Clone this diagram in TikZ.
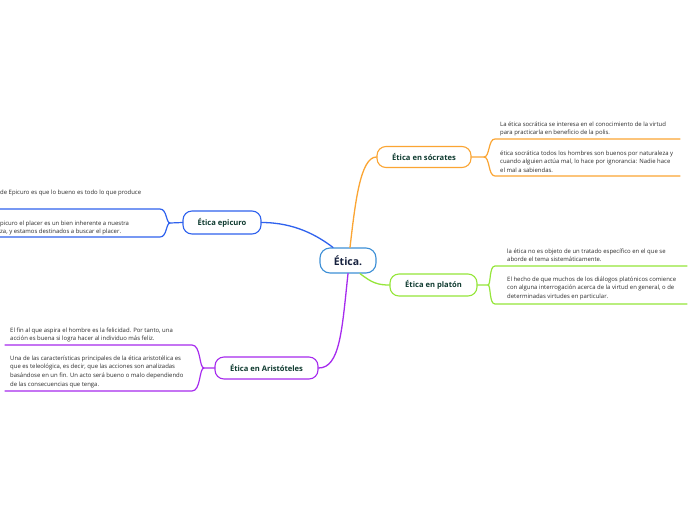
\documentclass[tikz,border=0pt]{standalone}
\usepackage{fontspec}
\setmainfont{Open Sans}
\usetikzlibrary{calc}
\definecolor{corange}{HTML}{FBA533}
\definecolor{cblue}{HTML}{2F62EE}
\definecolor{ccenter}{HTML}{3D8FD6}
\definecolor{cgreen}{HTML}{95E63A}
\definecolor{cpurple}{HTML}{A62BEE}
\definecolor{ttitle}{HTML}{0F3B30}
\definecolor{tcenter}{HTML}{17223F}
\definecolor{tsub}{HTML}{2A2A2A}
\newcommand{\mylines}[1]{\begin{tabular}[t]{@{}l@{}}#1\end{tabular}}
\begin{document}
\begin{tikzpicture}[x=1pt,y=-1pt,
 topic/.style={draw, line width=1.1pt, rounded corners=9pt, fill=white, inner sep=0pt, font=\bfseries\fontsize{7.6}{9}\selectfont, text=ttitle},
 subtext/.style={anchor=base west, inner sep=0pt, font=\fontsize{5.95}{8.8}\selectfont, text=tsub},
 branch/.style={line width=1.3pt, line cap=round},
 uline/.style={line width=1.2pt, line cap=round}]
\fill[white] (0,0) rectangle (696,520);
\useasboundingbox (0,0) rectangle (696,520);

% main topic nodes
\node[topic, draw=ccenter, minimum width=56pt, minimum height=25pt, font=\bfseries\fontsize{10.5}{12}\selectfont, text=tcenter, rounded corners=10pt] (c) at (348,260.5) {Ética.};
\node[topic, draw=corange, minimum width=94pt, minimum height=21pt] (s) at (424,157) {Ética en sócrates};
\node[topic, draw=cblue, minimum width=78pt, minimum height=23pt] (e) at (222,222.5) {Ética epicuro};
\node[topic, draw=cgreen, minimum width=87pt, minimum height=22pt] (p) at (433.5,285) {Ética en platón};
\node[topic, draw=cpurple, minimum width=103pt, minimum height=22pt] (a) at (266.5,368) {Ética en Aristóteles};

% main branches
\draw[branch, corange] ($(c.north)+(2,0)$) .. controls (355,205) and (360,157) .. (s.west);
\draw[branch, cblue] ($(c.north)+(-15,0)$) .. controls (318,236) and (295,222.5) .. (e.east);
\draw[branch, cgreen] ($(c.south)+(12,0)$) .. controls (372,283) and (378,285) .. (p.west);
\draw[branch, cpurple] (c.south) .. controls (342,330) and (340,368) .. (a.east);

% fork coordinates
\coordinate (sf) at (484,157);
\coordinate (st) at (495,139);
\coordinate (sb) at (495,176);
\coordinate (ste) at (680,139);
\coordinate (sbe) at (680,176);

\coordinate (pf) at (488,285);
\coordinate (pt) at (495,266);
\coordinate (pb) at (495,304);
\coordinate (pte) at (687,266);
\coordinate (pbe) at (687,304);

\coordinate (ef) at (170,223);
\coordinate (et) at (160,209);
\coordinate (eb) at (160,237);
\coordinate (ete) at (0,209);
\coordinate (ebe) at (0,237);

\coordinate (af) at (204,368);
\coordinate (at) at (192,345);
\coordinate (ab) at (192,391);
\coordinate (ate) at (5,345);
\coordinate (abe) at (5,391);

% brackets and underlines: socrates
\draw[uline, corange] (s.east) -- (sf) .. controls (490,157) and (488,139) .. (st) -- (ste);
\draw[uline, corange] (sf) .. controls (490,157) and (488,176) .. (sb) -- (sbe);
% platon
\draw[uline, cgreen] (p.east) -- (pf) .. controls (491,285) and (489,266) .. (pt) -- (pte);
\draw[uline, cgreen] (pf) .. controls (491,285) and (489,304) .. (pb) -- (pbe);
% epicuro
\draw[uline, cblue] (e.west) -- (ef) .. controls (166,223) and (167,209) .. (et) -- (ete);
\draw[uline, cblue] (ef) .. controls (166,223) and (167,237) .. (eb) -- (ebe);
% aristoteles
\draw[uline, cpurple] (a.west) -- (af) .. controls (199,368) and (201,345) .. (at) -- (ate);
\draw[uline, cpurple] (af) .. controls (199,368) and (201,391) .. (ab) -- (abe);

% texts
\node[subtext] (s1) at (500,126) {\mylines{La ética socrática se interesa en el conocimiento de la virtud\\para practicarla en beneficio de la polis.}};
\node[subtext] (s2) at (500,155) {\mylines{ética socrática todos los hombres son buenos por naturaleza y\\cuando alguien actúa mal, lo hace por ignorancia: Nadie hace\\el mal a sabiendas.}};
\node[subtext] (p1) at (507,253) {\mylines{la ética no es objeto de un tratado específico en el que se\\aborde el tema sistemáticamente.}};
\node[subtext] (p2) at (507,281) {\mylines{El hecho de que muchos de los diálogos platónicos comience\\con alguna interrogación acerca de la virtud en general, o de\\determinadas virtudes en particular.}};
\node[subtext] (e1) at (0,194) {de Epicuro es que lo bueno es todo lo que produce};
\node[subtext] (e2) at (0,225) {\mylines{picuro el placer es un bien inherente a nuestra\\za, y estamos destinados a buscar el placer.}};
\node[subtext] (a1) at (10,332) {\mylines{El fin al que aspira el hombre es la felicidad. Por tanto, una\\acción es buena si logra hacer al individuo más feliz.}};
\node[subtext] (a2) at (10,360) {\mylines{Una de las características principales de la ética aristotélica es\\que es teleológica, es decir, que las acciones son analizadas\\basándose en un fin. Un acto será bueno o malo dependiendo\\de las consecuencias que tenga.}};
\end{tikzpicture}
\end{document}
